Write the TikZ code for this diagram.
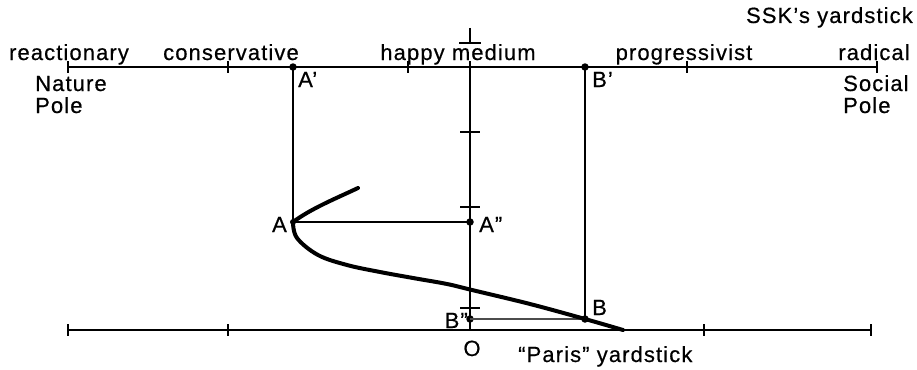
\documentclass[tikz,border=0pt]{standalone}
\usepackage{fontspec}
\setmainfont{Liberation Sans}[LetterSpace=5, FakeBold=0.5]
\begin{document}
\begin{tikzpicture}[x=1pt,y=-1pt,
  lbl/.style={font=\fontsize{22}{25}\selectfont, inner sep=0pt},
  axis/.style={line width=1.7pt},
  proj/.style={line width=1.4pt},
  projgray/.style={line width=1.4pt, draw=black!70},
  curve/.style={line width=4pt, line cap=round, line join=round},
  dot/.style={circle, fill=black, inner sep=0pt, minimum size=7.5pt},
  tk/.style={line width=1.6pt}]
\useasboundingbox (0,0) rectangle (917,369);

% axis end points
\coordinate (TL) at (68,67);
\coordinate (TR) at (877,67);
\coordinate (BL) at (68,330);
\coordinate (BR) at (871,330);
\coordinate (Vtop) at (470,28);
\coordinate (Vbar) at (470,43);
\coordinate (Vmid) at (470,61);
\coordinate (O) at (470,330);

% points
\node[dot] (Ap) at (293,67) {};
\node[dot] (Bp) at (585,67) {};
\node[dot, minimum size=6pt] (A) at (293,222) {};
\node[dot] (App) at (470,222) {};
\node[dot] (Bpp) at (470,319) {};
\node[dot] (B) at (585,319) {};

% axes
\draw[axis] (TL) -- (TR);
\draw[axis] (BL) -- (BR);
\draw[axis] (Vtop) -- (Vbar);
\draw[axis] (Vmid) -- (O);

% ticks
\foreach \x in {68,228,408,687,877} \draw[tk] (\x,61) -- (\x,73);
\foreach \x in {68,228,704,871} \draw[tk] (\x,324) -- (\x,336);
\foreach \y in {132,207,308} \draw[tk] (460,\y) -- (480,\y);
\draw[tk] (459,43) -- (481,43);

% projections
\draw[proj] (Ap.center) -- (A.center);
\draw[proj] (Bp.center) -- (B.center);
\draw[proj] (A.center) -- (App.center);
\draw[projgray] (Bpp.center) -- (B.center);

% curve
\draw[curve] (A.center) .. controls (312,208) and (337,198) .. (358,188);
\draw[curve] plot[smooth, tension=0.6] coordinates {(293,222) (297,238) (318,255) (347,265) (380,272) (413,278) (447,284) (472,290) (530,304) (585,319) (623,330)};

% top scale labels
\node[lbl, anchor=base] (lreac) at (69,60) {reactionary};
\node[lbl, anchor=base] (lcons) at (231,60) {conservative};
\node[lbl, anchor=base] (lhappy) at (458,60) {happy medium};
\node[lbl, anchor=base] (lprog) at (684,60) {progressivist};
\node[lbl, anchor=base] (lrad) at (874,60) {radical};
\node[lbl, anchor=base east] (lssk) at (913,23) {SSK’s yardstick};
\node[lbl, anchor=base west] (lnat) at (35,91) {Nature};
\node[lbl, anchor=base west] (lnatp) at (35,113) {Pole};
\node[lbl, anchor=base west] (lsoc) at (843,91) {Social};
\node[lbl, anchor=base west] (lsocp) at (843,113) {Pole};

% point labels
\node[lbl, anchor=base west] (tAp) at (298,87) {A’};
\node[lbl, anchor=base west] (tBp) at (592,87) {B’};
\node[lbl, anchor=base east] (tA) at (287,232) {A};
\node[lbl, anchor=base west] (tApp) at (479,232) {A”};
\node[lbl, anchor=base west] (tB) at (592,315) {B};
\node[lbl, anchor=base east] (tBpp) at (468,328) {B”};
\node[lbl, anchor=base] (tO) at (472,356) {O};
\node[lbl, anchor=base west] (tparis) at (518,362) {“Paris” yardstick};
\end{tikzpicture}
\end{document}
